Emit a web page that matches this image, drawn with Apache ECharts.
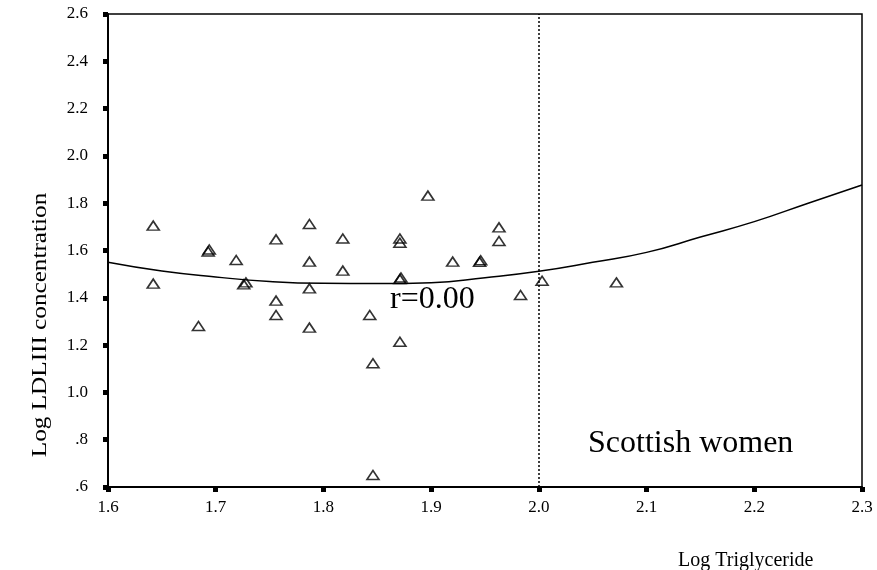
<!DOCTYPE html>
<html>
<head>
<meta charset="utf-8">
<script src="https://cdn.jsdelivr.net/npm/echarts@6/dist/echarts.min.js"></script>
<style>
  html, body { margin: 0; padding: 0; background: #fff; }
  #chart { width: 877px; height: 570px; }
</style>
</head>
<body>
<div id="chart"></div>
<script>
// points (log TG, log LDLIII)
var logTG = [1.642, 1.642, 1.684, 1.693, 1.694, 1.719, 1.726, 1.728, 1.756, 1.756, 1.756, 1.787, 1.787, 1.787, 1.787,
             1.818, 1.818, 1.843, 1.846, 1.846, 1.871, 1.871, 1.871, 1.872, 1.871, 1.897, 1.920, 1.945, 1.946, 1.963,
             1.963, 1.983, 2.003, 2.072];
var logLDL = [1.705, 1.460, 1.281, 1.596, 1.604, 1.560, 1.457, 1.465, 1.647, 1.388, 1.327, 1.712, 1.553, 1.440, 1.274,
              1.651, 1.515, 1.327, 1.123, 0.651, 1.651, 1.633, 1.479, 1.486, 1.214, 1.832, 1.553, 1.552, 1.559, 1.698,
              1.640, 1.412, 1.472, 1.465];

// fitted curve
var fitX = [1.60, 1.65, 1.70, 1.75, 1.80, 1.85, 1.90, 1.95, 2.00, 2.05, 2.10, 2.15, 2.20, 2.25, 2.30];
var fitY = [1.550, 1.513, 1.488, 1.469, 1.461, 1.460, 1.464, 1.485, 1.512, 1.550, 1.592, 1.657, 1.722, 1.800, 1.877];

var xTickLabels = ['1.6', '1.7', '1.8', '1.9', '2.0', '2.1', '2.2', '2.3'];
var yTickLabels = ['.6', '.8', '1.0', '1.2', '1.4', '1.6', '1.8', '2.0', '2.2', '2.4', '2.6'];
var cutoff = 2.0;

var serif = '"Liberation Serif", "DejaVu Serif", serif';

var pts = logTG.map(function (x, i) { return [x, logLDL[i]]; });
var curve = fitX.map(function (x, i) { return [x, fitY[i]]; });

var myChart = echarts.init(document.getElementById('chart'));
var option = {
  backgroundColor: '#fff',
  animation: false,
  grid: {
    left: 108, right: 15, top: 14, bottom: 83,
    show: true, borderColor: '#000', borderWidth: 1.5
  },
  xAxis: {
    type: 'value', min: 1.6, max: 2.3, interval: 0.1,
    axisLine: { show: true, onZero: false, lineStyle: { color: '#000', width: 2 } },
    axisTick: { show: true, length: 5, lineStyle: { color: '#000', width: 5 } },
    splitLine: { show: false },
    axisLabel: {
      margin: 12, color: '#000', fontFamily: serif, fontSize: 17,
      formatter: function (v) { return xTickLabels[Math.round((v - 1.6) / 0.1)]; }
    }
  },
  yAxis: {
    type: 'value', min: 0.6, max: 2.6, interval: 0.2,
    axisLine: { show: true, onZero: false, lineStyle: { color: '#000', width: 2 } },
    axisTick: { show: true, length: 5, lineStyle: { color: '#000', width: 5 } },
    splitLine: { show: false },
    axisLabel: {
      margin: 20, color: '#000', fontFamily: serif, fontSize: 17,
      formatter: function (v) { return yTickLabels[Math.round((v - 0.6) / 0.2)]; }
    }
  },
  series: [
    {
      type: 'line',
      data: curve,
      smooth: true,
      showSymbol: false,
      lineStyle: { color: '#000', width: 1.5 },
      silent: true
    },
    {
      type: 'scatter',
      data: pts,
      symbol: 'triangle',
      symbolSize: [12, 9],
      itemStyle: { color: 'rgba(0,0,0,0)', borderColor: '#000', borderWidth: 1.6 },
      markLine: {
        silent: true,
        symbol: 'none',
        label: { show: false },
        lineStyle: { color: '#000', type: [2, 2], width: 1.5 },
        data: [{ xAxis: cutoff }]
      }
    }
  ],
  graphic: [
    {
      type: 'text', left: 390, top: 284,
      style: { text: 'r=0.00', font: '32px ' + serif, fill: '#000' }
    },
    {
      type: 'text', left: 588, top: 428,
      style: { text: 'Scottish women', font: '32px ' + serif, fill: '#000' }
    },
    {
      type: 'text', left: 678, top: 551,
      style: { text: 'Log Triglyceride', font: '20px ' + serif, fill: '#000' }
    },
    {
      type: 'text', x: 40, y: 325, rotation: Math.PI / 2, scaleX: 1.2,
      style: { text: 'Log LDLIII concentration', font: '21px ' + serif, fill: '#000', align: 'center', verticalAlign: 'middle' }
    }
  ]
};
myChart.setOption(option);
</script>
</body>
</html>
